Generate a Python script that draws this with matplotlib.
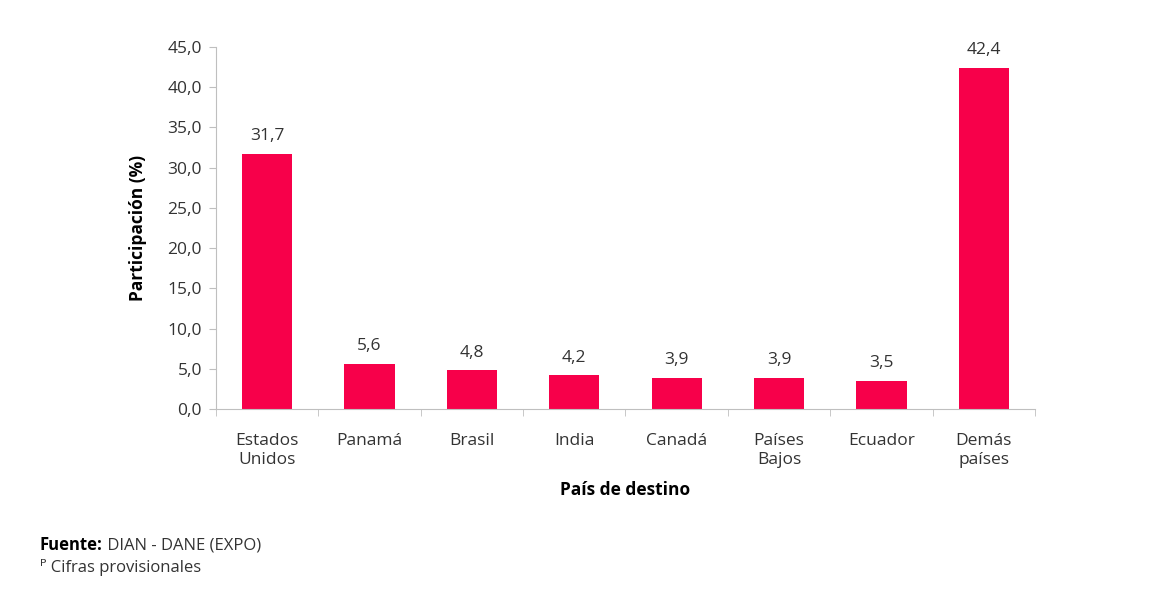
import matplotlib.pyplot as plt
import numpy as np

plt.rcParams['font.family'] = ['Open Sans', 'DejaVu Sans']

countries = ["Estados\nUnidos", "Panamá", "Brasil", "India", "Canadá",
             "Países\nBajos", "Ecuador", "Demás\npaíses"]
share = [31.7, 5.6, 4.8, 4.2, 3.9, 3.9, 3.5, 42.4]
yticks = [0, 5, 10, 15, 20, 25, 30, 35, 40, 45]

bar_color = '#F7004A'
axis_color = '#BFBFBF'
text_color = '#333333'
fs = 12.5

fig = plt.figure(figsize=(11.7, 5.94), dpi=100)
ax = fig.add_axes([0.1846, 0.3114, 0.7, 0.6095])

x = np.arange(len(countries))
ax.bar(x, share, width=0.49, color=bar_color)

for xi, v in zip(x, share):
    ax.text(xi, v + 1.2, f"{v:.1f}".replace(".", ","), ha='center', va='bottom',
            fontsize=fs, color=text_color)

ax.set_xlim(-0.5, len(countries) - 0.5)
ax.set_ylim(0, 45)
ax.set_yticks(yticks)
ax.set_yticklabels([f"{t:.1f}".replace(".", ",") for t in yticks], fontsize=fs, color=text_color)

# category labels at centers, tick marks between categories
ax.set_xticks(x)
ax.set_xticklabels(countries, fontsize=fs, color=text_color, linespacing=1.3)
ax.tick_params(axis='x', length=0, pad=17)
ax.set_xticks(np.arange(len(countries) + 1) - 0.5, minor=True)
ax.tick_params(axis='x', which='minor', length=5, color=axis_color, direction='out')
ax.tick_params(axis='y', length=5, color=axis_color, pad=5)

for s in ['top', 'right']:
    ax.spines[s].set_visible(False)
for s in ['left', 'bottom']:
    ax.spines[s].set_color(axis_color)

ax.set_ylabel("Participación (%)", fontsize=fs, fontweight='bold', color='black', labelpad=15)
ax.set_xlabel("País de destino", fontsize=fs, fontweight='bold', color='black', labelpad=9)

t1 = fig.text(0.034, 0.082, "Fuente:", fontsize=12, fontweight='bold', color='black', va='center')
ax.annotate(" DIAN - DANE (EXPO)", xy=(1, 0.5), xycoords=t1, va='center', ha='left',
            fontsize=12, color=text_color, annotation_clip=False)
fig.text(0.034, 0.045, "ᴾ Cifras provisionales", fontsize=12, color=text_color, va='center')

fig.savefig('out.png', dpi=100)
